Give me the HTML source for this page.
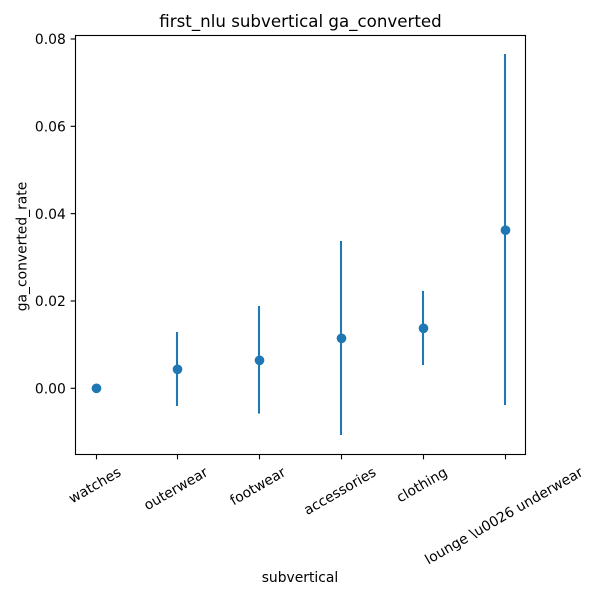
<!DOCTYPE html>
<html>
<head>
<meta charset="utf-8">
<style>
html,body{margin:0;padding:0;background:#fff}
svg{display:block}
text{font-family:"DejaVu Sans","Liberation Sans",sans-serif;fill:#000}
</style>
</head>
<body>
<svg id="chart" width="600" height="600" viewBox="0 0 600 600" xmlns="http://www.w3.org/2000/svg">
<rect x="0" y="0" width="600" height="600" fill="#fff"/>
<text x="300.5" y="27" font-size="16.67" text-anchor="middle">first_nlu subvertical ga_converted</text>
<text x="300" y="582" font-size="13.89" text-anchor="middle">subvertical</text>
<text x="0" y="0" font-size="13.89" text-anchor="middle" transform="translate(26.5 246.5) rotate(-90)">ga_converted_rate</text>
<g id="marks"></g>
<g id="axes"></g>
</svg>
<script>
const categories = ["watches", "outerwear", "footwear", "accessories", "clothing", "lounge \\u0026 underwear"];
const rates = [0, 0.00435, 0.0064, 0.01145, 0.01374, 0.0362];
const lowerBounds = [0, -0.00405, -0.0058, -0.0107, 0.00534, -0.00382];
const upperBounds = [0, 0.0129, 0.01885, 0.03374, 0.0223, 0.07657];
const yTickValues = [0, 0.02, 0.04, 0.06, 0.08];
const yTickLabels = ["0.00", "0.02", "0.04", "0.06", "0.08"];

const NS = "http://www.w3.org/2000/svg";
const plot = {left: 75.5, right: 525.5, top: 35.5, bottom: 454.5};
const BLUE = "#1f77b4";
const marks = document.getElementById("marks");
const axes = document.getElementById("axes");

function xScale(i) { return 96 + i * (505 - 96) / (categories.length - 1); }
function yScale(v) { return 388.3 - v * (388.3 - 39) / 0.08; }
function make(tag, parent, attrs) {
  const el = document.createElementNS(NS, tag);
  Object.keys(attrs).forEach(function (k) { el.setAttribute(k, attrs[k]); });
  parent.appendChild(el);
  return el;
}

categories.forEach(function (c, i) {
  const x = Math.floor(xScale(i));
  if (upperBounds[i] !== lowerBounds[i]) {
    const bar = make("line", marks, {x1: x, x2: x, y1: yScale(upperBounds[i]), y2: yScale(lowerBounds[i]), stroke: BLUE, "stroke-width": 2.08});
    
    
  }
  const dot = make("circle", marks, {cx: x + 0.5, cy: yScale(rates[i]), r: 4.85, fill: BLUE});
  
  
});

const frame = make("rect", axes, {x: plot.left, y: plot.top, width: plot.right - plot.left, height: plot.bottom - plot.top, fill: "none", stroke: "#000", "stroke-width": 1.11});



yTickValues.forEach(function (v, i) {
  const y = yScale(v);
  const tick = make("line", axes, {x1: plot.left - 4.86, x2: plot.left, y1: y, y2: y, stroke: "#000", "stroke-width": 1.11});
  
  
  const label = make("text", axes, {x: 65.8, y: y + 5.1, "font-size": 13.89, "text-anchor": "end"});
  
  
  label.textContent = yTickLabels[i];
});

categories.forEach(function (c, i) {
  const x = Math.floor(xScale(i)) + 0.5;
  const tick = make("line", axes, {x1: x, x2: x, y1: plot.bottom, y2: plot.bottom + 4.86, stroke: "#000", "stroke-width": 1.11});
  
  
  const label = make("text", axes, {x: 0, y: 0, "font-size": 13.89, "text-anchor": "middle"});
  
  
  label.textContent = c;
  const w = label.getComputedTextLength();
  const h = w * 0.5 + 16.2 * 0.866;
  const cy = 464 + h / 2;
  label.setAttribute("transform", "translate(" + (x - 1.6) + " " + cy + ") rotate(-30) translate(0 4.5)");
});
</script>
</body>
</html>
